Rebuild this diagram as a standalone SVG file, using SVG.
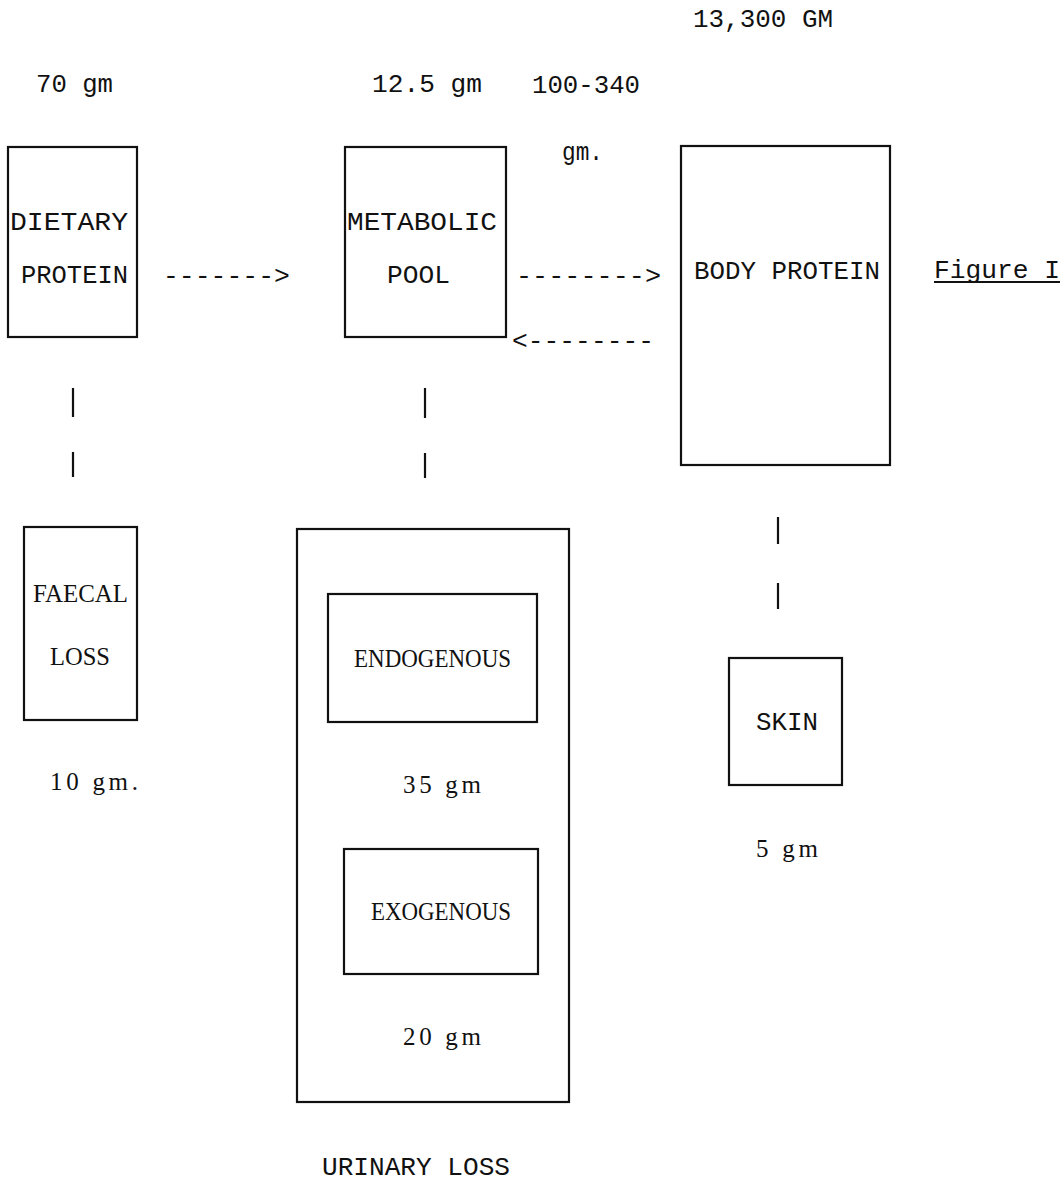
<svg xmlns="http://www.w3.org/2000/svg" width="1062" height="1182" viewBox="0 0 1062 1182">
<style>
.box{fill:none;stroke:#111;stroke-width:2.2}
.m{font-family:"Liberation Mono","DejaVu Sans Mono",monospace;font-size:26px;fill:#111}
.s{font-family:"Liberation Serif","DejaVu Serif",serif;font-size:25px;fill:#111}
.bar{stroke:#111;stroke-width:2.2}
</style>
<rect width="1062" height="1182" fill="#fff"/>

<g id="labels">
<text class="m" x="693" y="27" textLength="140" lengthAdjust="spacingAndGlyphs">13,300 GM</text>
<text class="m" x="36" y="92" textLength="77" lengthAdjust="spacingAndGlyphs">70 gm</text>
<text class="m" x="372" y="92" textLength="110" lengthAdjust="spacingAndGlyphs">12.5 gm</text>
<text class="m" x="532" y="93" textLength="108" lengthAdjust="spacingAndGlyphs">100-340</text>
<text class="m" x="562" y="160" textLength="41" lengthAdjust="spacingAndGlyphs">gm.</text>
<text class="s" x="50" y="790" textLength="88" lengthAdjust="spacing">10 gm.</text>
<text class="s" x="756" y="857" textLength="62" lengthAdjust="spacing">5 gm</text>
<text class="m" x="322" y="1175" textLength="188" lengthAdjust="spacingAndGlyphs">URINARY LOSS</text>
<g id="figure-label">
<text class="m" x="934" y="278" textLength="126" lengthAdjust="spacingAndGlyphs">Figure I</text>
<line x1="934" y1="282" x2="1060" y2="282" stroke="#111" stroke-width="2"/>
</g>
</g>

<g id="dietary-protein">
<rect class="box" x="8" y="147" width="129" height="190"/>
<text class="m" x="10" y="230" textLength="118" lengthAdjust="spacingAndGlyphs">DIETARY</text>
<text class="m" x="21" y="283" textLength="107" lengthAdjust="spacingAndGlyphs">PROTEIN</text>
</g>

<g id="metabolic-pool">
<rect class="box" x="345" y="147" width="161" height="190"/>
<text class="m" x="347" y="230" textLength="150" lengthAdjust="spacingAndGlyphs">METABOLIC</text>
<text class="m" x="387" y="283" textLength="63" lengthAdjust="spacingAndGlyphs">POOL</text>
</g>

<g id="body-protein">
<rect class="box" x="681" y="146" width="209" height="319"/>
<text class="m" x="694" y="279" textLength="186" lengthAdjust="spacingAndGlyphs">BODY PROTEIN</text>
</g>

<g id="faecal-loss">
<rect class="box" x="24" y="527" width="113" height="193"/>
<text class="s" x="33" y="602" textLength="95" lengthAdjust="spacingAndGlyphs">FAECAL</text>
<text class="s" x="50" y="665" textLength="60" lengthAdjust="spacingAndGlyphs">LOSS</text>
</g>

<g id="urinary-loss">
<rect class="box" x="297" y="529" width="272" height="573"/>
</g>

<g id="endogenous">
<rect class="box" x="328" y="594" width="209" height="128"/>
<text class="s" x="354" y="667" textLength="157" lengthAdjust="spacingAndGlyphs">ENDOGENOUS</text>
<text class="s" x="403" y="793" textLength="78" lengthAdjust="spacing">35 gm</text>
</g>

<g id="exogenous">
<rect class="box" x="344" y="849" width="194" height="125"/>
<text class="s" x="371" y="920" textLength="140" lengthAdjust="spacingAndGlyphs">EXOGENOUS</text>
<text class="s" x="403" y="1045" textLength="78" lengthAdjust="spacing">20 gm</text>
</g>

<g id="skin">
<rect class="box" x="729" y="658" width="113" height="127"/>
<text class="m" x="756" y="730" textLength="62" lengthAdjust="spacingAndGlyphs">SKIN</text>
</g>

<g id="connectors">
<text class="m" x="163" y="284" textLength="127" lengthAdjust="spacingAndGlyphs">-------&gt;</text>
<text class="m" x="516" y="284" textLength="145" lengthAdjust="spacingAndGlyphs">--------&gt;</text>
<text class="m" x="512" y="349" textLength="142" lengthAdjust="spacingAndGlyphs">&lt;--------</text>
<line class="bar" x1="73" y1="388" x2="73" y2="417"/>
<line class="bar" x1="73" y1="452" x2="73" y2="477"/>
<line class="bar" x1="425" y1="388" x2="425" y2="418"/>
<line class="bar" x1="425" y1="453" x2="425" y2="478"/>
<line class="bar" x1="778" y1="517" x2="778" y2="544"/>
<line class="bar" x1="778" y1="583" x2="778" y2="609"/>
</g>
</svg>
